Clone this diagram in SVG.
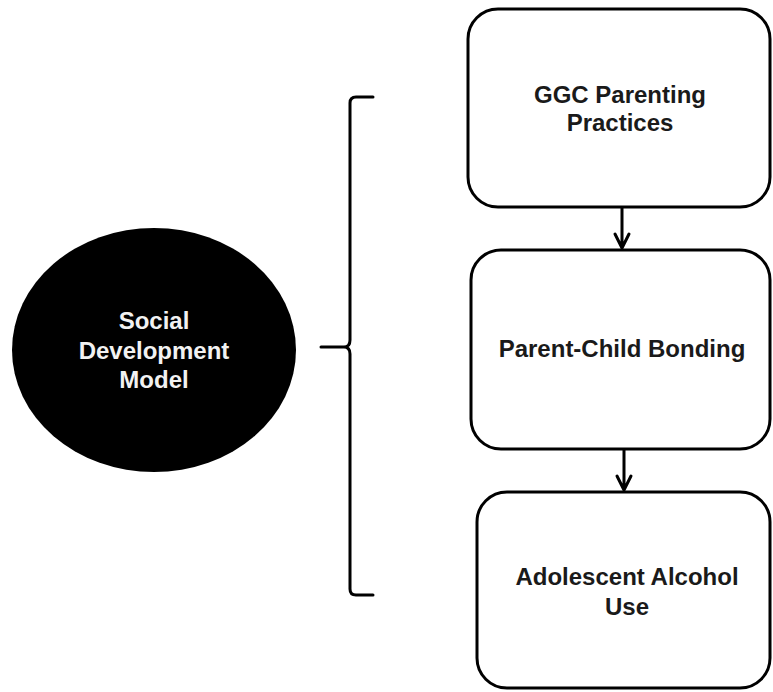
<svg xmlns="http://www.w3.org/2000/svg" width="773" height="692" viewBox="0 0 773 692">
<style>
.box{fill:#fff;stroke:#000;stroke-width:3}
.t{font-family:"Liberation Sans",Arial,sans-serif;font-weight:bold;font-size:24px;text-anchor:middle;fill:#1a1a1a}
.w{fill:#f2f2f2}
.c{fill:none;stroke:#000;stroke-width:3;stroke-linecap:round;stroke-linejoin:round}
</style>
<rect width="773" height="692" fill="#fff"/>
<g id="sdm">
<ellipse cx="154" cy="350" rx="142" ry="122" fill="#000"/>
<text class="t w" x="154" y="329">Social</text>
<text class="t w" x="154" y="359">Development</text>
<text class="t w" x="154" y="388">Model</text>
</g>
<g id="ggc">
<rect class="box" x="468" y="9" width="302" height="198" rx="30"/>
<text class="t" x="620" y="103">GGC Parenting</text>
<text class="t" x="620" y="131">Practices</text>
</g>
<g id="bonding">
<rect class="box" x="471" y="250" width="299" height="199" rx="30"/>
<text class="t" x="622" y="357">Parent-Child Bonding</text>
</g>
<g id="alcohol">
<rect class="box" x="477" y="492" width="293" height="196" rx="30"/>
<text class="t" x="627" y="585">Adolescent Alcohol</text>
<text class="t" x="627" y="615">Use</text>
</g>
<g id="connectors">
<path class="c" d="M373 97 H356 Q350 97 350 103 V340 Q350 347 344 347 H321 M344 347 Q350 347 350 354 V589 Q350 595 356 595 H373"/>
<path class="c" d="M622 208 V248 M615 234 L622 248 L629 234"/>
<path class="c" d="M624 450 V490 M617 476 L624 490 L631 476"/>
</g>
</svg>
